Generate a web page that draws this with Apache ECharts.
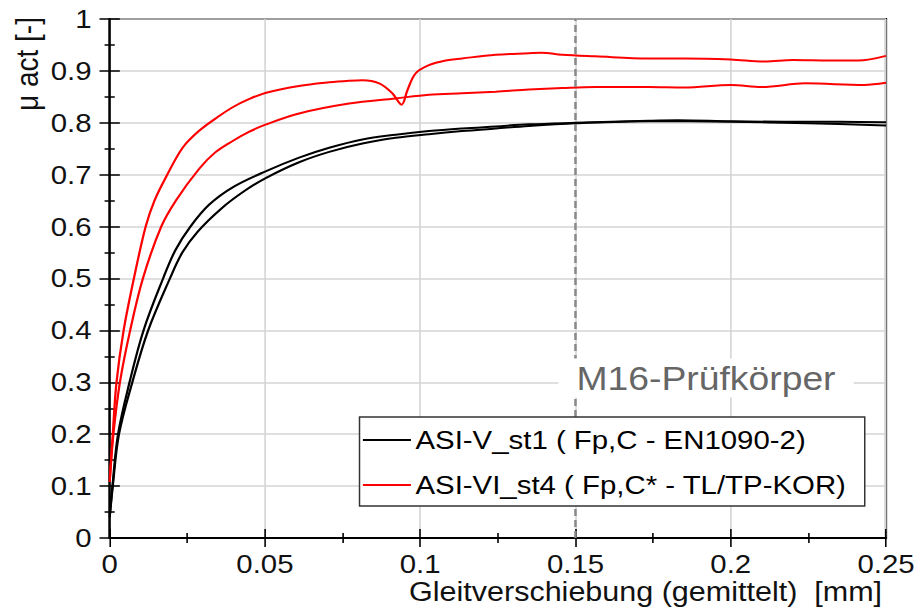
<!DOCTYPE html>
<html>
<head>
<meta charset="utf-8">
<script src="https://cdn.jsdelivr.net/npm/echarts@6/dist/echarts.min.js"></script>
<style>
  html, body { margin: 0; padding: 0; background: #fff; overflow: hidden; }
  /* the source figure is stretched horizontally, so draw narrower and stretch */
  #chart { width: 812px; height: 610px; transform: scaleX(1.13054); transform-origin: 0 0; }
</style>
</head>
<body>
<div id="chart"></div>
<script>
// series names (legend)
const nameBlack = 'ASI-V_st1 ( Fp,C - EN1090-2)';
const nameRed = 'ASI-VI_st4 ( Fp,C* - TL/TP-KOR)';

// [Gleitverschiebung mm, mu act]
const blackA = [[0,0.04],[0.0009,0.10],[0.0027,0.20],[0.0064,0.30],[0.0109,0.40],[0.0172,0.50],[0.0212,0.555],
  [0.026,0.60],[0.032,0.642],[0.04,0.677],[0.0504,0.707],[0.061,0.733],[0.0707,0.752],[0.0814,0.768],
  [0.0921,0.777],[0.1028,0.784],[0.1135,0.789],[0.1243,0.793],[0.135,0.797],[0.15,0.800],[0.1735,0.804],
  [0.183,0.805],[0.2,0.803],[0.219,0.802],[0.235,0.802],[0.25,0.801]];
const blackB = [[0,0.04],[0.001,0.10],[0.003,0.20],[0.0073,0.30],[0.0124,0.40],[0.0194,0.50],[0.0234,0.55],
  [0.0283,0.59],[0.036,0.635],[0.0435,0.669],[0.0504,0.694],[0.061,0.724],[0.0707,0.744],[0.0814,0.760],
  [0.0921,0.771],[0.1028,0.778],[0.1135,0.784],[0.1243,0.789],[0.135,0.794],[0.15,0.799],[0.1735,0.803],
  [0.2,0.802],[0.225,0.799],[0.25,0.795]];
const redA = [[0,0.108],[0.001,0.20],[0.0022,0.30],[0.0045,0.40],[0.0078,0.50],[0.0116,0.60],[0.0145,0.651],
  [0.0182,0.696],[0.0235,0.752],[0.0289,0.785],[0.035,0.812],[0.0396,0.830],[0.045,0.846],[0.0504,0.858],
  [0.061,0.871],[0.0707,0.878],[0.0771,0.881],[0.0814,0.882],[0.0868,0.876],[0.091,0.857],[0.094,0.835],
  [0.0959,0.863],[0.0985,0.895],[0.1028,0.911],[0.1082,0.920],[0.1135,0.924],[0.1243,0.931],[0.135,0.934],
  [0.139,0.935],[0.1457,0.931],[0.1564,0.928],[0.1735,0.924],[0.185,0.924],[0.2,0.922],[0.211,0.918],
  [0.22,0.921],[0.232,0.920],[0.241,0.920],[0.25,0.929]];
const redB = [[0,0.108],[0.0012,0.20],[0.0033,0.30],[0.0066,0.40],[0.0107,0.50],[0.0166,0.60],[0.0214,0.651],
  [0.0289,0.712],[0.034,0.743],[0.0396,0.765],[0.045,0.783],[0.0504,0.797],[0.061,0.818],[0.0771,0.837],
  [0.0921,0.847],[0.1028,0.854],[0.1135,0.857],[0.1243,0.860],[0.135,0.864],[0.1457,0.867],[0.1564,0.869],
  [0.1735,0.869],[0.185,0.868],[0.2,0.873],[0.21,0.869],[0.224,0.876],[0.243,0.873],[0.25,0.877]];

// axes
const xRange = [0, 0.25, 0.05];
const yRange = [0, 1, 0.1];
const markX = 0.15;

const font = '"Liberation Sans", Arial, sans-serif';
const chart = echarts.init(document.getElementById('chart'), null, { renderer: 'svg' });

function xAx(inside, main) {
  return {
    type: 'value', min: xRange[0], max: xRange[1], interval: xRange[2],
    position: 'bottom',
    axisLine: { show: main, onZero: false, lineStyle: { color: '#000', width: 2 } },
    axisTick: { show: true, inside: inside, length: 9, lineStyle: { color: '#000', width: 1.4 } },
    minorTick: { show: true, splitNumber: 2, length: 5, lineStyle: { color: '#000', width: 1.4 } },
    axisLabel: { show: main, margin: 15, lineHeight: 22, color: '#111', fontSize: 26, fontFamily: font,
      formatter: v => String(+v.toFixed(3)) },
    splitLine: { show: main, lineStyle: { color: '#d4d4d4', width: 1.4 } }
  };
}
function yAx(inside, main) {
  return {
    type: 'value', min: yRange[0], max: yRange[1], interval: yRange[2],
    position: 'left',
    axisLine: { show: main, onZero: false, lineStyle: { color: '#000', width: 2 } },
    axisTick: { show: true, inside: inside, length: 9, lineStyle: { color: '#000', width: 1.5 } },
    minorTick: { show: true, splitNumber: 2, length: 4.5, lineStyle: { color: '#000', width: 1.5 } },
    axisLabel: { show: main, margin: 16, color: '#111', fontSize: 26, fontFamily: font,
      formatter: v => String(+v.toFixed(2)) },
    splitLine: { show: main, lineStyle: { color: '#d4d4d4', width: 1.5 } }
  };
}

function line(name, data, color) {
  return {
    name: name, type: 'line', data: data, symbol: 'none', smooth: 0.35,
    xAxisIndex: 0, yAxisIndex: 0,
    lineStyle: { color: color, width: 2 }, itemStyle: { color: color },
    z: 3
  };
}

const series = [
  line(nameBlack, blackA, '#000'),
  line(nameBlack, blackB, '#000'),
  line(nameRed, redA, '#ff0000'),
  line(nameRed, redB, '#ff0000')
];
series[0].markLine = {
  silent: true, symbol: 'none', label: { show: false },
  lineStyle: { color: '#8a8a8a', type: [7, 4], width: 2.2 },
  data: [{ xAxis: markX }]
};

const option = {
  animation: false,
  backgroundColor: '#fff',
  grid: { left: 97, right: 26.5, top: 19, bottom: 72, show: true, borderColor: '#000', borderWidth: 2 },
  xAxis: [xAx(false, true), xAx(true, false)],
  yAxis: [yAx(false, true), yAx(true, false)],
  legend: {
    data: [nameBlack, nameRed],
    orient: 'vertical', left: 318, top: 417,
    icon: 'rect', itemWidth: 42.5, itemHeight: 2, itemGap: 19,
    padding: [10, 16, 8, 3],
    backgroundColor: '#fff', borderColor: '#333', borderWidth: 1.3,
    textStyle: { color: '#000', fontSize: 26, fontFamily: font, padding: [0, 0, 0, -1] },
    z: 20
  },
  graphic: [
    { type: 'text', z: 100, x: 624.5, y: 378,
      style: { text: 'M16-Prüfkörper', fill: '#666', font: '33px ' + font,
        textAlign: 'center', textVerticalAlign: 'middle', backgroundColor: '#fff', padding: [3, 16] } },
    { type: 'text', z: 100, x: 24, y: 64, rotation: Math.PI / 2,
      style: { text: 'μ act [-]', fill: '#111', font: '28px ' + font,
        textAlign: 'center', textVerticalAlign: 'middle' } },
    { type: 'text', z: 100, x: 571, y: 592,
      style: { text: 'Gleitverschiebung (gemittelt)  [mm]', fill: '#111', font: '27px ' + font,
        lineHeight: 26, textAlign: 'center', textVerticalAlign: 'middle' } }
  ],
  series: series
};

chart.setOption(option);
</script>
</body>
</html>
